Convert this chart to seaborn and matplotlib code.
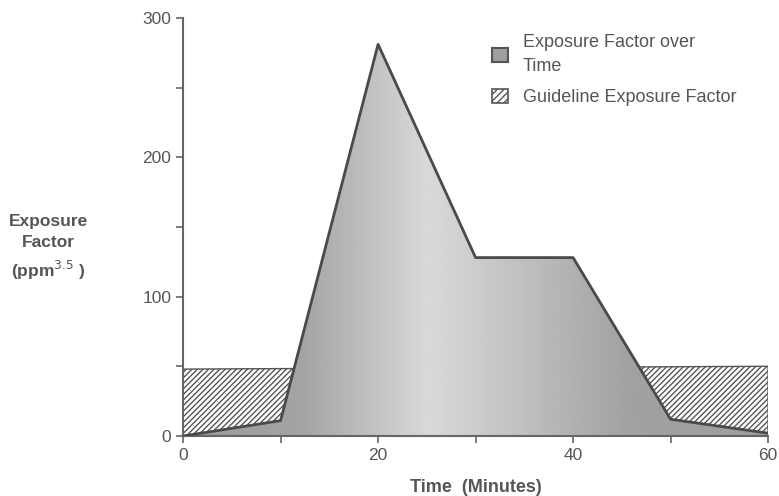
import numpy as np
import pandas as pd
import matplotlib
matplotlib.use("Agg")
import matplotlib.pyplot as plt
import seaborn as sns
from matplotlib.patches import Patch

# values
minutes = [0, 10, 20, 30, 40, 50, 60]
exposure = [0, 11, 281, 128, 128, 12, 2]
guide_minutes = [0, 60]
guide_level = [48, 50]

sns.set_style("ticks")
plt.rcParams["font.family"] = ["Liberation Sans", "DejaVu Sans"]

df = pd.DataFrame({"minutes": minutes, "exposure": exposure})

fig = plt.figure(figsize=(7.79, 4.96), dpi=100)
ax = fig.add_axes([0.235, 0.121, 0.751, 0.843])

# guideline band, hatched
ax.fill_between(guide_minutes, 0, guide_level, facecolor="white",
                edgecolor="#555555", hatch="//////", linewidth=1.0, zorder=1)

# exposure area with a soft horizontal gradient clipped to the polygon
poly = ax.fill_between(df["minutes"], 0, df["exposure"], facecolor="none",
                       edgecolor="none", zorder=2)
xs = np.linspace(0, 60, 300)
shade = np.interp(xs, [0, 12, 25, 34, 46, 60], [0.60, 0.64, 0.85, 0.76, 0.63, 0.62])
img = ax.imshow(np.tile(shade, (10, 1)), cmap="gray", vmin=0, vmax=1,
                extent=[0, 60, 0, 300], aspect="auto", origin="lower", zorder=2)
img.set_clip_path(poly.get_paths()[0], transform=ax.transData)

sns.lineplot(data=df, x="minutes", y="exposure", ax=ax, color="#4a4a4a",
             linewidth=2.0, zorder=3)

ax.set_xlim(0, 60)
ax.set_ylim(0, 300)
ax.set_xticks([0, 10, 20, 30, 40, 50, 60])
ax.set_xticklabels(["0", "", "20", "", "40", "", "60"])
ax.set_yticks([0, 50, 100, 150, 200, 250, 300])
ax.set_yticklabels(["0", "", "100", "", "200", "", "300"])
ax.tick_params(colors="#666666", labelcolor="#555555", labelsize=12.5, length=5, width=1.2)
for s in ["top", "right"]:
    ax.spines[s].set_visible(False)
for s in ["left", "bottom"]:
    ax.spines[s].set_color("#666666")
    ax.spines[s].set_linewidth(1.5)

ax.set_xlabel("Time  (Minutes)", fontsize=13, color="#555555", fontweight="bold",
              labelpad=12)
ax.set_ylabel("")
fig.text(0.062, 0.50, "Exposure\nFactor\n(ppm$^{3.5}$ )", ha="center", va="center",
         fontsize=12.5, color="#555555", fontweight="bold", linespacing=1.5)

handles = [Patch(facecolor="#a0a0a0", edgecolor="#555555", linewidth=1.5),
           Patch(facecolor="white", edgecolor="#555555", hatch="/////", linewidth=1.2)]
leg = ax.legend(handles, ["Exposure Factor over\nTime", "Guideline Exposure Factor"],
                loc="upper left", bbox_to_anchor=(0.5, 1.0), frameon=False,
                fontsize=13, handlelength=0.9, handleheight=0.8, labelspacing=0.75,
                handletextpad=0.8)
for t in leg.get_texts():
    t.set_color("#555555")
    t.set_linespacing(1.55)

fig.savefig("out.png", dpi=100)
